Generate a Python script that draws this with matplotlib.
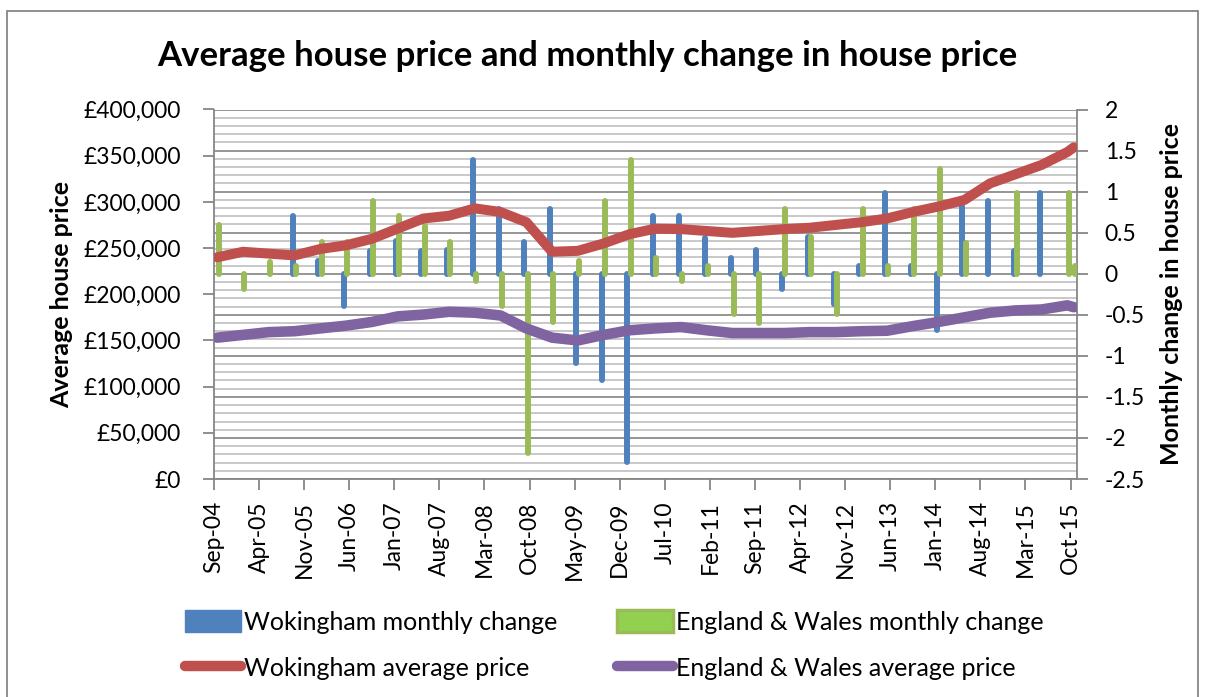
import numpy as np
import matplotlib
matplotlib.use("Agg")
import matplotlib.pyplot as plt
from matplotlib.ticker import MultipleLocator, FuncFormatter
from matplotlib.patches import Patch, Rectangle
from matplotlib.lines import Line2D

plt.rcParams['font.family'] = ['Lato', 'DejaVu Sans']

# ---- data -------------------------------------------------------------
dates = ["2004-09", "2005-01", "2005-05", "2005-09", "2006-01", "2006-05",
         "2006-09", "2007-01", "2007-05", "2007-09", "2008-01", "2008-05",
         "2008-09", "2009-01", "2009-05", "2009-09", "2010-01", "2010-05",
         "2010-09", "2011-01", "2011-05", "2011-09", "2012-01", "2012-05",
         "2012-09", "2013-01", "2013-05", "2013-09", "2014-01", "2014-05",
         "2014-09", "2015-01", "2015-05", "2015-09", "2015-10"]

wok_change = [0.0, 0.0, 0.0, 0.70, 0.16, -0.39, 0.28, 0.40, 0.28, 0.29,
              1.39, 0.79, 0.39, 0.79, -1.09, -1.29, -2.29, 0.70, 0.70, 0.44,
              0.19, 0.29, -0.19, 0.45, -0.37, 0.09, 0.98, 0.09, -0.69, 0.82,
              0.88, 0.28, 0.98, 0.0, 0.0]

ew_change = [0.59, -0.19, 0.14, 0.09, 0.39, 0.39, 0.89, 0.70, 0.58, 0.39,
             -0.09, -0.39, -2.18, -0.59, 0.16, 0.89, 1.39, 0.19, -0.09, 0.09,
             -0.49, -0.60, 0.79, 0.45, -0.49, 0.79, 0.09, 0.79, 1.28, 0.38,
             0.0, 0.98, 0.0, 0.98, 0.09]

wok_price = [240000, 246000, 244000, 242000, 249000, 253000, 260000, 271000,
             282000, 285000, 293000, 289000, 278000, 246000, 247000, 255000,
             265000, 271000, 270500, 268500, 266500, 268500, 270500, 272000,
             275000, 278000, 282000, 289000, 295000, 302000, 320000, 330000,
             340000, 354000, 359000]

ew_price = [153000, 156000, 159000, 160000, 163000, 166000, 170000, 176000,
            178000, 181000, 180000, 177000, 163000, 153000, 150000, 156000,
            161000, 163000, 164500, 161000, 158000, 158000, 158000, 159000,
            159000, 160000, 160500, 165500, 170000, 175000, 180000, 182500,
            183500, 188000, 186000]

tick_labels = ["Sep-04", "Apr-05", "Nov-05", "Jun-06", "Jan-07", "Aug-07",
               "Mar-08", "Oct-08", "May-09", "Dec-09", "Jul-10", "Feb-11",
               "Sep-11", "Apr-12", "Nov-12", "Jun-13", "Jan-14", "Aug-14",
               "Mar-15", "Oct-15"]

labels = ["Wokingham monthly change", "England & Wales monthly change",
          "Wokingham average price", "England & Wales average price"]

# ---- positions on a monthly date axis (Sep-04 = month 0) ---------------
def month_index(s):
    y, m = s.split("-")
    return (int(y) - 2004) * 12 + int(m) - 9

x = np.array([month_index(d) for d in dates]) + 0.5   # centre of month cell
n_months = month_index("2015-10") + 1                 # 134 month cells

BLUE = "#4F81BD"
GREEN = "#9BBB59"
GREEN_FILL = "#92D050"
RED = "#C0504D"
PURPLE = "#8064A2"
AXC = "#868686"

W, H = 1205, 697
fig = plt.figure(figsize=(W / 100, H / 100), dpi=100)
fig.patch.set_facecolor("white")

L, R, T, B = 214, 1077, 109.5, 479
ax = fig.add_axes([L / W, 1 - B / H, (R - L) / W, (B - T) / H])
ax2 = ax.twinx()

# ---- bars (secondary / right scale) -----------------------------------
wc = np.array(wok_change, dtype=float)
ec = np.array(ew_change, dtype=float)
mb = wc != 0
mg = ec != 0
vb = ax.vlines(x[mb] - 0.3, 0, wc[mb], colors=BLUE, linewidth=4.3, zorder=3)
vb.set_capstyle("round")
vg = ax.vlines(x[mg] + 0.2, 0, ec[mg], colors=GREEN, linewidth=4.3, zorder=4)
vg.set_capstyle("round")

ax.set_xlim(0, n_months)
ax.set_ylim(-2.5, 2)
ax.set_yticks(np.arange(-2.5, 2.01, 0.5))
ax.yaxis.set_minor_locator(MultipleLocator(0.1))
ax.yaxis.set_major_formatter(FuncFormatter(lambda v, p: f"{v:g}"))
ax.yaxis.tick_right()
ax.yaxis.set_label_position("right")
ax.grid(which="major", axis="y", color="#8C8C8C", linewidth=1.3)
ax.grid(which="minor", axis="y", color="#C4C4C4", linewidth=1.3)
ax.set_axisbelow(True)
ax.tick_params(axis="y", which="minor", length=0, right=False, left=False)
ax.tick_params(axis="y", which="major", direction="out", length=8, width=1.3,
               color=AXC, labelsize=16.5, pad=12)
ax.set_ylabel("Monthly change in house price", fontsize=18, fontweight="bold",
              labelpad=11)

ax.set_xticks(np.arange(0, n_months, 7))
ax.set_xticklabels(tick_labels, rotation=90, fontsize=16.5)
ax.tick_params(axis="x", direction="out", length=8, width=1.3, color=AXC, pad=8)

for sp in ["left", "right", "bottom"]:
    ax.spines[sp].set_color(AXC)
    ax.spines[sp].set_linewidth(1.3)
ax.spines["top"].set_visible(False)

# ---- lines (primary / left scale) -------------------------------------
ax2.plot(x, wok_price, color=RED, linewidth=7.2, solid_joinstyle="round",
         solid_capstyle="round", zorder=5)
ax2.plot(x, ew_price, color=PURPLE, linewidth=7.6, solid_joinstyle="round",
         solid_capstyle="round", zorder=5)
ax2.set_ylim(0, 400000)
ax2.set_yticks(np.arange(0, 400001, 50000))
ax2.yaxis.set_major_formatter(FuncFormatter(lambda v, p: f"£{v:,.0f}"))
ax2.yaxis.tick_left()
ax2.yaxis.set_label_position("left")
ax2.tick_params(axis="y", direction="out", length=8, width=1.3, color=AXC,
                labelsize=16.5, pad=16)
ax2.set_ylabel("Average house price", fontsize=18, fontweight="bold", labelpad=7)
for sp in ax2.spines.values():
    sp.set_visible(False)

# ---- title ------------------------------------------------------------
fig.text(587 / W, 1 - 66 / H, "Average house price and monthly change in house price",
         ha="center", va="baseline", fontsize=25, fontweight="bold")

# ---- legend -----------------------------------------------------------
handles = [
    Patch(facecolor=BLUE, edgecolor=BLUE, linewidth=1),
    Line2D([], [], color=RED, linewidth=7.5, solid_capstyle="round"),
    Patch(facecolor=GREEN_FILL, edgecolor=GREEN, linewidth=2.5),
    Line2D([], [], color=PURPLE, linewidth=7.5, solid_capstyle="round"),
]
leg_labels = [labels[0], labels[2], labels[1], labels[3]]
fig.legend(handles, leg_labels, loc="upper left",
           bbox_to_anchor=(185 / W, 1 - 610 / H), ncol=2, frameon=False,
           fontsize=18, handlelength=2.25, handleheight=1.0,
           handletextpad=0.12, columnspacing=2.36, labelspacing=0.9,
           borderpad=0, borderaxespad=0)

# ---- chart border -----------------------------------------------------
fig.patches.append(Rectangle((7 / W, -0.02), (1198 - 7) / W, 1 - 11 / H + 0.02,
                             transform=fig.transFigure, fill=False,
                             edgecolor=AXC, linewidth=1.3))

fig.savefig("out.png", dpi=100)
